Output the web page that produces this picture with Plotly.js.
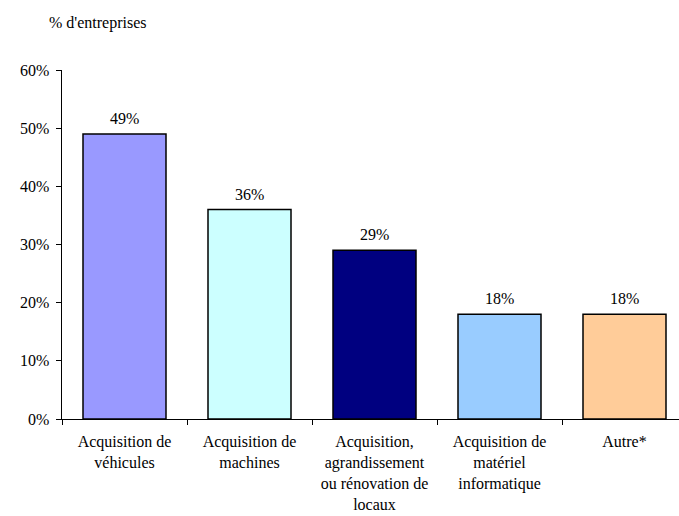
<!DOCTYPE html>
<html>
<head>
<meta charset="utf-8">
<script src="https://cdn.plot.ly/plotly-3.0.1.min.js"></script>
<style>html,body{margin:0;padding:0;background:#fff;}#chart{width:679px;height:516px;}</style>
</head>
<body>
<div id="chart"></div>
<script>
var categories = [
  "Acquisition de<br>véhicules",
  "Acquisition de<br>machines",
  "Acquisition,<br>agrandissement<br>ou rénovation de<br>locaux",
  "Acquisition de<br>matériel<br>informatique",
  "Autre*"
];
var values = [49, 36, 29, 18, 18];
var valueLabels = ["49%", "36%", "29%", "18%", "18%"];
var barColors = ["#9999FF", "#CCFFFF", "#000080", "#99CCFF", "#FFCC99"];
var yTickVals = [0, 10, 20, 30, 40, 50, 60];
var yTickText = ["0%", "10%", "20%", "30%", "40%", "50%", "60%"];

var font = {family: "Liberation Serif, Times New Roman, serif", size: 16, color: "#000"};

var trace = {
  type: "bar",
  x: categories,
  y: values,
  marker: {color: barColors, line: {color: "#000", width: 1.5}},
  hoverinfo: "none"
};

var valueAnnotations = categories.map(function (c, i) {
  return {
    x: c, y: values[i], xref: "x", yref: "y",
    text: valueLabels[i], showarrow: false,
    xanchor: "center", yanchor: "bottom", yshift: 5,
    font: font
  };
});

var layout = {
  width: 679,
  height: 516,
  margin: {l: 62, r: 0, t: 70, b: 97},
  paper_bgcolor: "#fff",
  plot_bgcolor: "#fff",
  font: font,
  showlegend: false,
  bargap: 0.336,
  xaxis: {
    type: "category",
    range: [-0.5, 4.436],
    showline: true,
    linecolor: "#000",
    linewidth: 1,
    ticks: "outside",
    tickson: "boundaries",
    ticklen: 5,
    tickcolor: "#000",
    showgrid: false,
    zeroline: false,
    tickangle: 0,
    ticklabelstandoff: 8,
    tickfont: font
  },
  yaxis: {
    range: [0, 60],
    tickvals: yTickVals,
    ticktext: yTickText,
    showline: true,
    linecolor: "#000",
    linewidth: 1.5,
    ticks: "outside",
    ticklen: 5,
    tickcolor: "#000",
    showgrid: false,
    zeroline: false,
    ticklabelstandoff: 3,
    tickfont: font
  },
  annotations: valueAnnotations.concat([{
    text: "% d'entreprises",
    xref: "paper", yref: "paper",
    x: -0.024, y: 1.135,
    xanchor: "left", yanchor: "middle",
    showarrow: false,
    font: font
  }])
};

Plotly.newPlot("chart", [trace], layout, {displayModeBar: false, staticPlot: true});
</script>
</body>
</html>
